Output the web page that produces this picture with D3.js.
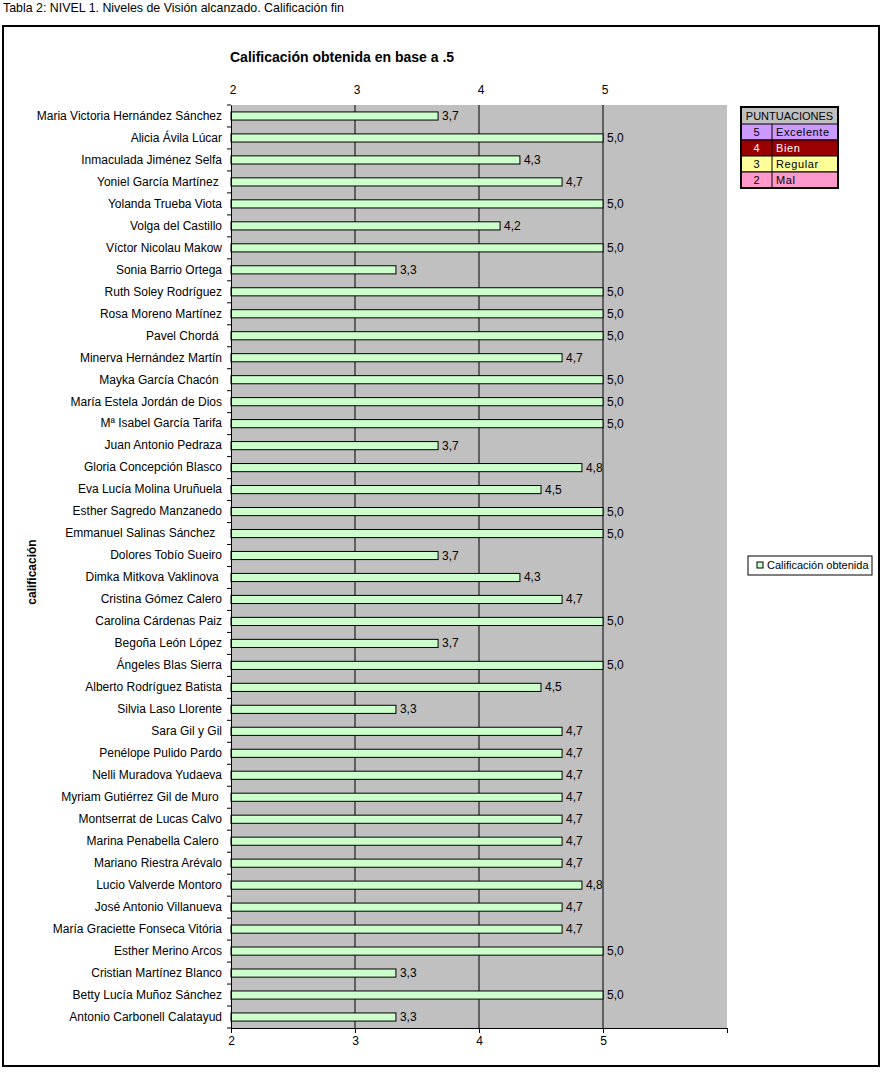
<!DOCTYPE html>
<html><head><meta charset="utf-8">
<script src="https://cdn.jsdelivr.net/npm/d3@7"></script>
<style>
body{margin:0;background:#fff;}
text{font-family:"Liberation Sans",Arial,sans-serif;}
</style></head><body>
<svg id="chart" width="886" height="1072"></svg>
<script>
const names = ["Maria Victoria Hernández Sánchez","Alicia Ávila Lúcar","Inmaculada Jiménez Selfa","Yoniel García Martínez ","Yolanda Trueba Viota","Volga del Castillo","Víctor Nicolau Makow","Sonia Barrio Ortega","Ruth Soley Rodríguez","Rosa Moreno Martínez","Pavel Chordá ","Minerva Hernández Martín","Mayka García Chacón ","María Estela Jordán de Dios","Mª Isabel García Tarifa","Juan Antonio Pedraza","Gloria Concepción Blasco","Eva Lucía Molina Uruñuela","Esther Sagredo Manzanedo","Emmanuel Salinas Sánchez  ","Dolores Tobío Sueiro","Dimka Mitkova Vaklinova ","Cristina Gómez Calero","Carolina Cárdenas Paiz","Begoña León López","Ángeles Blas Sierra","Alberto Rodríguez Batista","Silvia Laso Llorente","Sara Gil y Gil","Penélope Pulido Pardo","Nelli Muradova Yudaeva","Myriam Gutiérrez Gil de Muro ","Montserrat de Lucas Calvo","Marina Penabella Calero ","Mariano Riestra Arévalo","Lucio Valverde Montoro","José Antonio Villanueva","María Graciette Fonseca Vitória","Esther Merino Arcos","Cristian Martínez Blanco","Betty Lucía Muñoz Sánchez","Antonio Carbonell Calatayud"];
const scores = [3.67,5,4.33,4.67,5,4.17,5,3.33,5,5,5,4.67,5,5,5,3.67,4.83,4.5,5,5,3.67,4.33,4.67,5,3.67,5,4.5,3.33,4.67,4.67,4.67,4.67,4.67,4.67,4.67,4.83,4.67,4.67,5,3.33,5,3.33];
const xTicks = [2,3,4,5,6];
const xTickLabels = ["2","3","4","5",""];
const legendCodes = ["5","4","3","2"];
const legendNames = ["Excelente","Bien","Regular","Mal"];
const legendColors = ["#cc99ff","#990000","#ffff99","#ff99cc"];
const legendTextColors = ["#000","#fff","#000","#000"];

const svg = d3.select("#chart");
const L = 231, R = 727, T = 105, B = 1028;
const x = d3.scaleLinear().domain([2,6]).range([L,R]);
const y = d3.scaleBand().domain(names.map((d,i)=>i)).range([T,B]).paddingInner(0.63).paddingOuter(0.315);

// header
svg.append("text").attr("x",3).attr("y",12).attr("font-size",12.4).text("Tabla 2: NIVEL 1. Niveles de Visión alcanzado. Calificación fin");
// chart border
svg.append("rect").attr("x",3).attr("y",26).attr("width",876).attr("height",1040).attr("fill","#fff").attr("stroke","#000").attr("stroke-width",2);
// title
svg.append("text").attr("x",230).attr("y",62).attr("font-size",14).attr("font-weight","bold").text("Calificación obtenida en base a .5");
// plot bg
svg.append("rect").attr("x",L).attr("y",T).attr("width",R-L).attr("height",B-T).attr("fill","#c0c0c0");
// gridlines
svg.selectAll(".grid").data([3,4,5]).enter().append("line")
  .attr("x1",d=>x(d)).attr("x2",d=>x(d)).attr("y1",T).attr("y2",B).attr("stroke","#000").attr("stroke-width",1);
// bars
svg.selectAll(".bar").data(scores).enter().append("rect")
  .attr("x",x(2)).attr("y",(d,i)=>y(i)).attr("width",d=>x(d)-x(2)).attr("height",y.bandwidth())
  .attr("fill","#ccffcc").attr("stroke","#000").attr("stroke-width",1);
// value labels
const fmt = d => d.toFixed(1).replace(".",",");
svg.selectAll(".val").data(scores).enter().append("text")
  .attr("x",d=>x(d)+4).attr("y",(d,i)=>y(i)+y.bandwidth()/2+4).attr("font-size",12).attr("fill","#000").text(fmt);
// left axis
const yAxis = d3.axisLeft(y).tickSize(0).tickFormat(i=>names[i]);
const gy = svg.append("g").attr("transform",`translate(${L},0)`).call(yAxis);
gy.select(".domain").attr("stroke","#000");
gy.selectAll("text").attr("font-size",12).attr("fill","#000").attr("x",-9).style("white-space","pre");
// category boundary ticks
svg.selectAll(".ct").data(d3.range(names.length+1)).enter().append("line")
  .attr("x1",L-4).attr("x2",L).attr("y1",i=>T+i*(B-T)/names.length).attr("y2",i=>T+i*(B-T)/names.length).attr("stroke","#000");
// bottom axis
const xAxisB = d3.axisBottom(x).tickValues(xTicks).tickFormat((d,i)=>xTickLabels[i]).tickSize(5);
const gb = svg.append("g").attr("transform",`translate(0,${B})`).call(xAxisB);
gb.selectAll("text").attr("font-size",12).attr("fill","#000").attr("dy","0.75em");
gb.selectAll("line,path").attr("stroke","#000");
// top axis labels
svg.selectAll(".tt").data(xTicks).enter().append("text")
  .attr("x",d=>x(d)+2).attr("y",94).attr("text-anchor","middle").attr("font-size",12).text((d,i)=>xTickLabels[i]);
// y title
svg.append("text").attr("transform","translate(36,572) rotate(-90)").attr("text-anchor","middle")
  .attr("font-size",12).attr("font-weight","bold").text("calificación");

// scoring table
const tx=741, ty=107, tw=97, hh=17, rh=16, cw=31;
svg.append("rect").attr("x",tx).attr("y",ty).attr("width",tw).attr("height",hh).attr("fill","#c0c0c0");
svg.append("text").attr("x",tx+tw/2).attr("y",ty+13).attr("text-anchor","middle").attr("font-size",11).text("PUNTUACIONES");
legendCodes.forEach((c,i)=>{
  const yy = ty+hh+i*rh;
  svg.append("rect").attr("x",tx).attr("y",yy).attr("width",tw).attr("height",rh).attr("fill",legendColors[i]).attr("stroke","#000").attr("stroke-width",1);
  svg.append("line").attr("x1",tx+cw).attr("x2",tx+cw).attr("y1",yy).attr("y2",yy+rh).attr("stroke","#000");
  svg.append("text").attr("x",tx+cw/2).attr("y",yy+12).attr("text-anchor","middle").attr("font-size",11).attr("fill",legendTextColors[i]).text(c);
  svg.append("text").attr("x",tx+cw+4).attr("y",yy+12).attr("font-size",11).attr("fill",legendTextColors[i]).attr("letter-spacing",0.6).text(legendNames[i]);
});
svg.append("rect").attr("x",tx).attr("y",ty).attr("width",tw).attr("height",hh+4*rh).attr("fill","none").attr("stroke","#000").attr("stroke-width",2);

// series legend
svg.append("rect").attr("x",748).attr("y",556).attr("width",124).attr("height",19).attr("fill","#fff").attr("stroke","#000");
svg.append("rect").attr("x",757).attr("y",562).attr("width",6).attr("height",6).attr("fill","#ccffcc").attr("stroke","#000");
svg.append("text").attr("x",767).attr("y",569).attr("font-size",11).text("Calificación obtenida");
</script></body></html>
